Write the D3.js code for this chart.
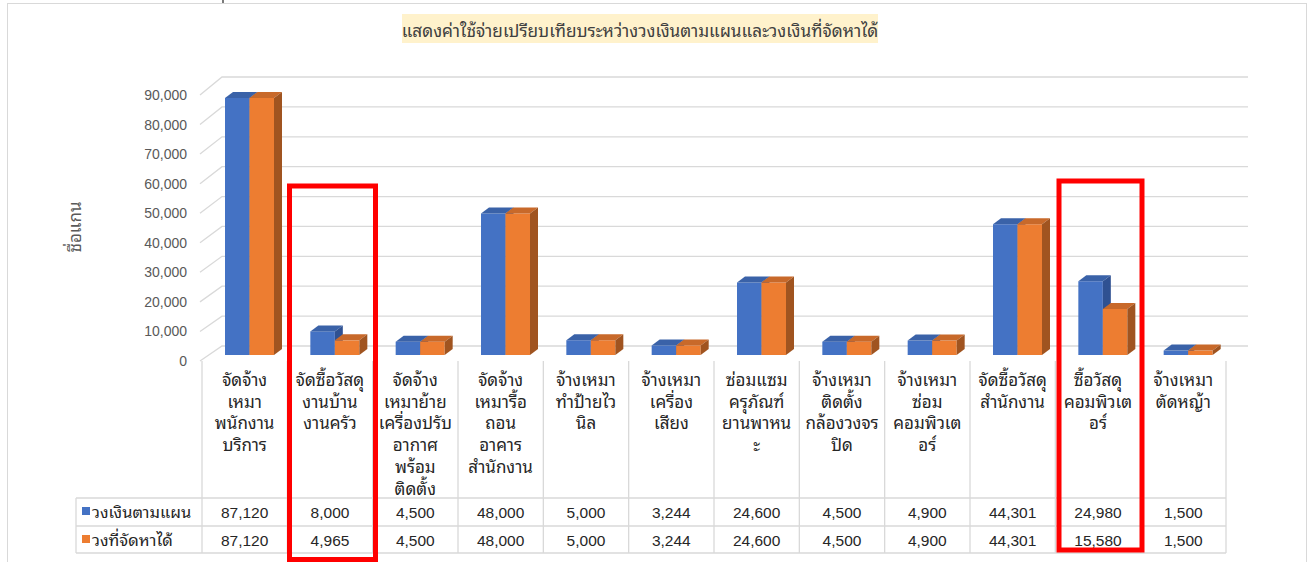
<!DOCTYPE html>
<html>
<head>
<meta charset="utf-8">
<script src="https://cdn.jsdelivr.net/npm/d3@7"></script>
<style>
html,body{margin:0;padding:0;background:#fff;}
svg{display:block;}
.th{font-family:"Noto Sans Thai Looped","Leelawadee UI",Tahoma,"Loma","Garuda","Noto Sans Thai",sans-serif;}
.num{font-family:"Liberation Sans",Arial,sans-serif;}
</style>
</head>
<body>
<svg id="chart" width="1314" height="562"></svg>
<script>
const title = "แสดงค่าใช้จ่ายเปรียบเทียบระหว่างวงเงินตามแผนและวงเงินที่จัดหาได้";
const yAxisTitle = "ชื่อแกน";
const categories = [
  ["จัดจ้าง","เหมา","พนักงาน","บริการ"],
  ["จัดซื้อวัสดุ","งานบ้าน","งานครัว"],
  ["จัดจ้าง","เหมาย้าย","เครื่องปรับ","อากาศ","พร้อม","ติดตั้ง"],
  ["จัดจ้าง","เหมารื้อ","ถอน","อาคาร","สำนักงาน"],
  ["จ้างเหมา","ทำป้ายไว","นิล"],
  ["จ้างเหมา","เครื่อง","เสียง"],
  ["ซ่อมแซม","ครุภัณฑ์","ยานพาหน","ะ"],
  ["จ้างเหมา","ติดตั้ง","กล้องวงจร","ปิด"],
  ["จ้างเหมา","ซ่อม","คอมพิวเต","อร์"],
  ["จัดซื้อวัสดุ","สำนักงาน"],
  ["ซื้อวัสดุ","คอมพิวเต","อร์"],
  ["จ้างเหมา","ตัดหญ้า"]
];
const seriesNames = ["วงเงินตามแผน","วงที่จัดหาได้"];
const planned  = [87120, 8000, 4500, 48000, 5000, 3244, 24600, 4500, 4900, 44301, 24980, 1500];
const procured = [87120, 4965, 4500, 48000, 5000, 3244, 24600, 4500, 4900, 44301, 15580, 1500];
const yTicks = [0,10000,20000,30000,40000,50000,60000,70000,80000,90000];

const colors = [
  {front:"#4472C4", top:"#3A62A8", side:"#2F5192"},
  {front:"#ED7D31", top:"#C8692A", side:"#A05420"}
];

const svg = d3.select("#chart");
const fmt = d3.format(",");

// chart border
svg.append("rect").attr("x",7.5).attr("y",3.5).attr("width",1299).attr("height",600)
  .attr("fill","#fff").attr("stroke","#D9D9D9").attr("stroke-width",1);
svg.append("line").attr("x1",223).attr("x2",223).attr("y1",0).attr("y2",3).attr("stroke","#222").attr("stroke-width",1.2);

// title
svg.append("rect").attr("x",402).attr("y",14).attr("width",476).attr("height",29).attr("fill","#FFF2CC");
svg.append("text").attr("class","th").attr("x",640).attr("y",36.5).attr("text-anchor","middle")
  .attr("font-size",17.2).attr("fill","#404040").text(title);

// scales
const x = d3.scaleBand().domain(d3.range(categories.length)).range([202,1226]).padding(0);
const yBar  = d3.scaleLinear().domain([0,90000]).range([355, 89.5]);
const yLeft = d3.scaleLinear().domain([0,90000]).range([361, 95]);
const yBack = d3.scaleLinear().domain([0,90000]).range([346, 77]);
const depthX = 22, leftX = 200, backRight = 1248;

// gridlines: wall
const grid = svg.append("g").attr("stroke","#D9D9D9").attr("stroke-width",1.3).attr("fill","none");
yTicks.forEach(v=>{
  grid.append("path").attr("d",`M${leftX},${yLeft(v)}L${leftX+depthX},${yBack(v)}L${backRight},${yBack(v)}`);
});
// tick labels
svg.append("g").selectAll("text").data(yTicks).join("text").attr("class","num")
  .attr("x",187).attr("y",v=>yLeft(v)+5).attr("text-anchor","end")
  .attr("font-size",14).attr("fill","#595959").text(v=>fmt(v));

// axis title
svg.append("text").attr("class","th").attr("transform","translate(81,227) rotate(-90)")
  .attr("text-anchor","middle").attr("font-size",17).attr("fill","#595959").text(yAxisTitle);

// bars (3D)
const barW = 24.5, dX = 8, dY = -6, barOffset = 23;
const barsG = svg.append("g");
categories.forEach((c,i)=>{
  [planned[i], procured[i]].forEach((v,s)=>{
    const x0 = x(i) + barOffset + s*barW, x1 = x0 + barW;
    const yT = yBar(v), yB = yBar(0);
    const col = colors[s];
    const g = barsG.append("g");
    g.append("path").attr("d",`M${x0},${yB}L${x1},${yB}L${x1},${yT}L${x0},${yT}Z`).attr("fill",col.front);
    g.append("path").attr("d",`M${x0},${yT}L${x1},${yT}L${x1+dX},${yT+dY}L${x0+dX},${yT+dY}Z`).attr("fill",col.top);
    g.append("path").attr("d",`M${x1},${yB}L${x1+dX},${yB+dY}L${x1+dX},${yT+dY}L${x1},${yT}Z`).attr("fill",col.side);
  });
});

// data table
const tTop = 361, hBottom = 498, r1 = 526, r2 = 553, legLeft = 76;
const tg = svg.append("g").attr("stroke","#D9D9D9").attr("stroke-width",1.3);
x.domain().forEach(i=>{ tg.append("line").attr("x1",x(i)).attr("x2",x(i)).attr("y1",tTop).attr("y2",r2); });
tg.append("line").attr("x1",1226).attr("x2",1226).attr("y1",tTop).attr("y2",r2);
tg.append("line").attr("x1",legLeft).attr("x2",legLeft).attr("y1",hBottom).attr("y2",r2);
[hBottom, r1, r2].forEach(yy=>{ tg.append("line").attr("x1",legLeft).attr("x2",1226).attr("y1",yy).attr("y2",yy); });

// category labels
categories.forEach((lines,i)=>{
  const t = svg.append("text").attr("class","th").attr("text-anchor","middle")
    .attr("font-size",17).attr("fill","#262626");
  lines.forEach((ln,k)=>{
    t.append("tspan").attr("x",x(i)+x.bandwidth()/2).attr("y",386+k*21.7).text(ln);
  });
});

// legend & values
const rowsY = [512, 540];
[planned, procured].forEach((arr,s)=>{
  svg.append("rect").attr("x",82).attr("y",rowsY[s]-5).attr("width",8).attr("height",8).attr("fill",colors[s].front);
  svg.append("text").attr("class","th").attr("x",92).attr("y",rowsY[s]+6).attr("font-size",16.5)
    .attr("fill","#262626").text(seriesNames[s]);
  svg.append("g").selectAll("text").data(arr).join("text").attr("class","num")
    .attr("x",(d,i)=>x(i)+x.bandwidth()/2).attr("y",rowsY[s]+5.5).attr("text-anchor","middle")
    .attr("font-size",15.5).attr("fill","#262626").text(d=>fmt(d));
});

// red highlight boxes
const boxes = [{x0:289.5, x1:375.5, y0:186, y1:559.5},{x0:1059, x1:1142, y0:181, y1:550}];
boxes.forEach(b=>{
  svg.append("rect").attr("x",b.x0).attr("y",b.y0).attr("width",b.x1-b.x0).attr("height",b.y1-b.y0)
    .attr("fill","none").attr("stroke","#FF0000").attr("stroke-width",5);
});
</script>
</body>
</html>
